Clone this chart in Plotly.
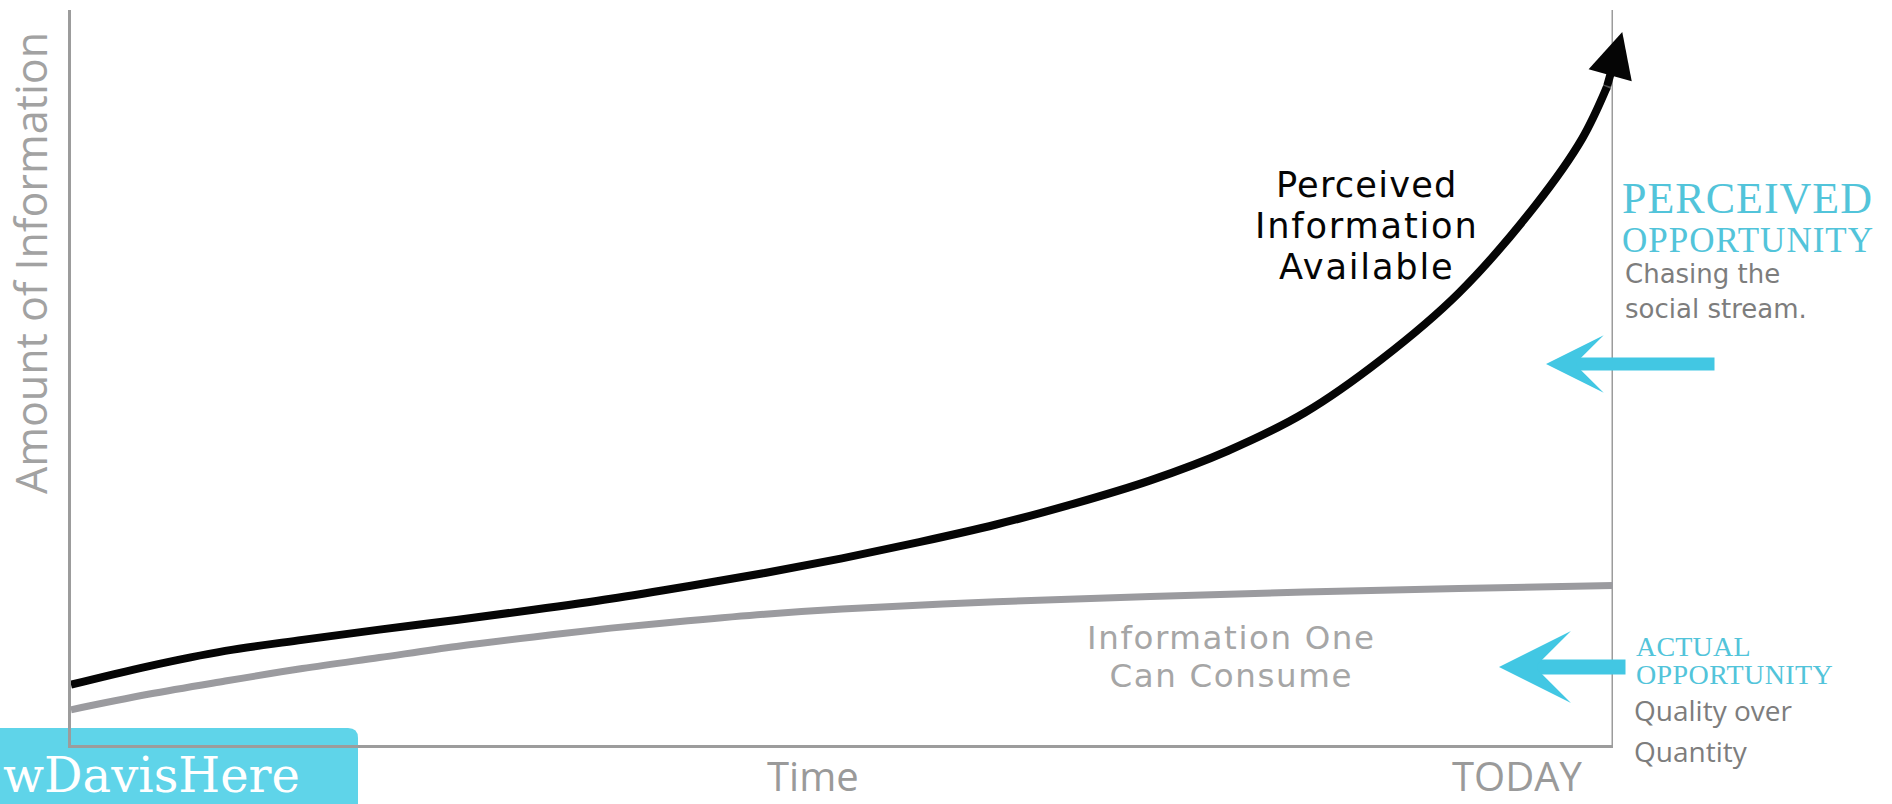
import plotly.graph_objects as go

# ---------------- data ----------------
time_perceived = [0, 5, 10, 15, 20, 25, 30, 35, 40, 45, 50, 55, 60, 65, 70, 75, 80, 85, 90, 95, 98, 99.6]
perceived_info = [8.2, 10.7, 12.8, 14.3, 15.7, 17.0, 18.4, 19.9, 21.6, 23.4, 25.4, 27.6, 30.0,
                  32.8, 36.0, 40.0, 45.2, 52.5, 61.5, 73.5, 82.5, 89.5]
perceived_tip = (100.6, 97.0)

time_consume = [0, 5, 10, 15, 20, 25, 30, 35, 40, 45, 50, 60, 70, 80, 90, 100]
consume_info = [4.8, 6.9, 8.7, 10.4, 11.9, 13.4, 14.7, 15.9, 16.9, 17.8, 18.5, 19.5, 20.2, 20.8, 21.3, 21.7]

x_range = [0, 100]
y_range = [0, 100]

# ---------------- layout geometry ----------------
W, H = 1892, 804
ML, MR, MT, MB = 71, 279, 10, 59
PW = W - ML - MR
PH = H - MT - MB


def fx(p):
    return (p - ML) / PW


def fy(p):
    return (H - MB - p) / PH


BLACK = "#050505"
LINEGRAY = "#9b9b9f"
AXISGRAY = "#9c9c9c"
TEXTGRAY = "#9a9a9a"
NOTEGRAY = "#7d7d7d"
CYAN = "#42c7e3"
CYAN_TEXT = "#52c4da"
BOX = "#5fd4e9"
SANS = "Open Sans"
LABEL = "DejaVu Sans"
SERIF = "Liberation Serif"

fig = go.Figure()

fig.add_trace(go.Scatter(
    x=time_consume, y=consume_info, mode="lines",
    line=dict(color=LINEGRAY, width=7, shape="spline", smoothing=1.0),
    hoverinfo="skip", showlegend=False, name="Information One Can Consume"))

end_dot = [0] * (len(time_perceived) - 1) + [8]
fig.add_trace(go.Scatter(
    x=time_perceived, y=perceived_info, mode="lines+markers",
    line=dict(color=BLACK, width=8, shape="spline", smoothing=1.0),
    marker=dict(size=end_dot, color=BLACK, line=dict(width=0)),
    cliponaxis=False,
    hoverinfo="skip", showlegend=False, name="Perceived Information Available"))

annotations = []

# arrow head of the black curve
annotations.append(dict(
    x=perceived_tip[0], y=perceived_tip[1], xref="x", yref="y",
    ax=time_perceived[-1], ay=perceived_info[-1], axref="x", ayref="y",
    text="", showarrow=True, arrowhead=2, arrowsize=1.12, arrowwidth=8,
    arrowcolor=BLACK, standoff=0))


def label(text, px, py, size, color, family=SANS, xanchor="center", angle=0):
    annotations.append(dict(
        x=fx(px), y=fy(py), xref="paper", yref="paper", text=text,
        showarrow=False, xanchor=xanchor, yanchor="middle", textangle=angle,
        font=dict(family=family, size=size, color=color)))


def block(lines, spacing, px, ptop, xanchor="center", align="center", base_family=SANS):
    """Several lines in one text; spacing = baseline-to-baseline distance in px."""
    parts = [f'<span style="font-size:{s}px;font-family:{fam};color:{c};letter-spacing:{ls}px">{t}</span>'
             for t, s, fam, c, ls in lines]
    annotations.append(dict(
        x=fx(px), y=fy(ptop), xref="paper", yref="paper", text="<br>".join(parts),
        showarrow=False, xanchor=xanchor, yanchor="top", align=align,
        font=dict(family=base_family, size=spacing / 1.3, color=lines[0][3])))


# curve labels
block([("Perceived", 35.2, LABEL, BLACK, 1.2),
       ("Information", 35.2, LABEL, BLACK, 1.8),
       ("Available", 35.2, LABEL, BLACK, 1.8)], 41, 1367, 162, base_family=LABEL)
block([("Information One", 32.5, LABEL, "#a6a6a6", 1.6),
       ("Can Consume", 32.5, LABEL, "#a6a6a6", 1.6)], 38, 1231, 617, base_family=LABEL)

# axis labels
label("Time", 813, 776, 40, TEXTGRAY)
label("TODAY", 1517, 776, 40, TEXTGRAY)
label("Amount of Information", 30, 263, 43, "#a2a2a2", angle=-90)

# right-hand notes
block([("PERCEIVED", 44, SERIF, CYAN_TEXT, 1.0),
       ("OPPORTUNITY", 35, SERIF, CYAN_TEXT, 1.0)], 39, 1620, 172, xanchor="left", align="left",
      base_family=SERIF)
block([("Chasing the", 26, LABEL, NOTEGRAY, 0),
       ("social stream.", 26, LABEL, NOTEGRAY, 0)], 35, 1623, 257, xanchor="left", align="left",
      base_family=LABEL)
block([("ACTUAL", 28, SERIF, CYAN_TEXT, 0.2),
       ("OPPORTUNITY", 28, SERIF, CYAN_TEXT, 0.4)], 28, 1634, 629, xanchor="left", align="left",
      base_family=SERIF)
block([("Quality over", 28, SANS, NOTEGRAY, 0),
       ("Quantity", 28, SANS, NOTEGRAY, 0)], 41, 1632, 689, xanchor="left", align="left")

# cyan arrows
annotations.append(dict(
    x=fx(1546), y=fy(364), xref="paper", yref="paper", ax=170, ay=0,
    text="", showarrow=True, arrowhead=3, arrowwidth=13, arrowsize=0.74,
    arrowcolor=CYAN, standoff=0))
annotations.append(dict(
    x=fx(1499), y=fy(667), xref="paper", yref="paper", ax=128, ay=0,
    text="", showarrow=True, arrowhead=3, arrowwidth=15, arrowsize=0.8,
    arrowcolor=CYAN, standoff=0))

# badge text
label("wDavisHere", 1, 775, 48, "white", family="DejaVu Serif", xanchor="left")

shapes = [
    # badge box with rounded top-right corner
    dict(type="path", xref="paper", yref="paper", layer="below",
         path=(f"M{fx(-10)},{fy(814)} L{fx(-10)},{fy(728)} L{fx(348)},{fy(728)} "
               f"Q{fx(358)},{fy(728)} {fx(358)},{fy(738)} L{fx(358)},{fy(814)} Z"),
         fillcolor=BOX, line=dict(width=0)),
    # right-hand "today" line
    dict(type="line", xref="x", yref="paper", layer="below",
         x0=x_range[1], x1=x_range[1], y0=0, y1=1,
         line=dict(color=AXISGRAY, width=3)),
]

fig.update_layout(
    width=W, height=H, autosize=False,
    margin=dict(l=ML, r=MR, t=MT, b=MB, pad=0),
    paper_bgcolor="white", plot_bgcolor="white",
    showlegend=False,
    annotations=annotations,
    shapes=shapes,
    xaxis=dict(range=x_range, showgrid=False, zeroline=False, showticklabels=False,
               ticks="", showline=True, linecolor=AXISGRAY, linewidth=3, fixedrange=True),
    yaxis=dict(range=y_range, showgrid=False, zeroline=False, showticklabels=False,
               ticks="", showline=True, linecolor=AXISGRAY, linewidth=3, fixedrange=True),
)

fig.write_html("out.html", config={"displayModeBar": False},
               post_script="document.body.style.margin='0';document.body.style.overflow='hidden';")
